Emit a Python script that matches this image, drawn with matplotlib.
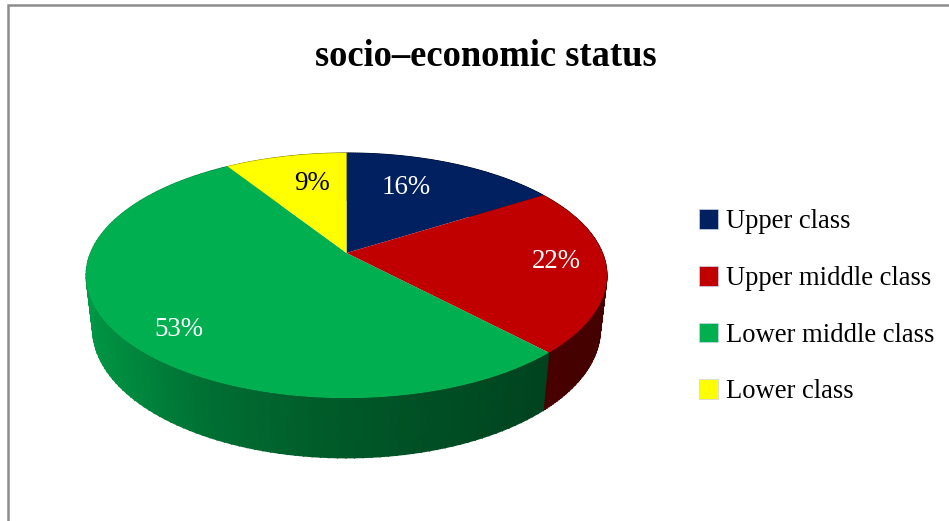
import matplotlib
matplotlib.use('Agg')
import matplotlib.pyplot as plt
import numpy as np
from matplotlib.colors import LinearSegmentedColormap
from matplotlib.patches import Patch

categories = ['Upper class', 'Upper middle class', 'Lower middle class', 'Lower class']
shares = [16, 22, 53, 9]
colors = ['#002060', '#C00000', '#00B050', '#FFFF00']
label_colors = ['white', 'white', 'white', 'black']

# pie geometry in pixels: apex of the slices and perspective terms
cx, cy = 346.5, 253.0
A, B = 256.0, 118.4
k, m = 0.1837, 0.025
D = 54.0

SERIF = 'Liberation Serif'


def project(theta, r=1.0, z=0.0):
    # theta runs clockwise from 12 o'clock, z is how far down the rim
    u = r * np.sin(theta)
    v = r * np.cos(theta)
    w = 1 + k * v + m * z
    return cx + A * u / w, cy - (B * v - D * z) / w


def side_shade(theta):
    return np.interp(np.sin(theta), [-1, -0.75, -0.45, 0, 0.8, 1],
                     [0.87, 0.78, 0.63, 0.5, 0.36, 0.36])


fig = plt.figure(figsize=(9.49, 5.21), dpi=100)
ax = fig.add_axes([0, 0, 1, 1])
ax.set_xlim(0, 949)
ax.set_ylim(521, 0)
ax.axis('off')

# chart frame, open at the bottom and right of the canvas
ax.plot([8.5, 8.5, 949], [521, 5.0, 5.0], color='#8C8C8C', lw=1.8, solid_joinstyle='miter')

edges = 2 * np.pi * np.cumsum([0] + shares) / sum(shares)

# rim first, the top faces go over it
for start, stop, color in zip(edges[:-1], edges[1:], colors):
    cmap = LinearSegmentedColormap.from_list('rim', ['black', color])
    t = np.linspace(start, stop, 120)
    top_x, top_y = project(t)
    low_x, low_y = project(t, z=1)
    shade = side_shade(t)
    ax.pcolormesh(np.vstack([top_x, low_x]), np.vstack([top_y, low_y]),
                  np.vstack([shade, shade]), cmap=cmap, vmin=0, vmax=1, shading='gouraud')
    # small dots along the lower edge soften the steps of the mesh
    ax.scatter(low_x, low_y, s=1.2, c=shade, cmap=cmap, vmin=0, vmax=1, lw=0)

for start, stop, color in zip(edges[:-1], edges[1:], colors):
    t = np.linspace(start, stop, 200)
    x, y = project(t)
    ax.fill(np.r_[cx, x], np.r_[cy, y], color=color, lw=0)

label_pos = [(406, 187), (556, 262), (179, 329), (312, 184)]
for share, (lx, ly), c in zip(shares, label_pos, label_colors):
    ax.text(lx, ly, '%d%%' % share, color=c, fontsize=19.4, family=SERIF,
            ha='center', va='center')

ax.text(486, 56, 'socio\u2013economic status', fontsize=26.3, fontweight='bold', family=SERIF,
        ha='center', va='center', color='black')

handles = [Patch(facecolor=c, edgecolor='#C8D4E8', lw=0.5) for c in colors]
ax.legend(handles, categories, loc='upper left', bbox_to_anchor=(685.5 / 949, 1 - 196 / 521),
          frameon=False, prop={'family': SERIF, 'size': 19.2}, handlelength=0.7, handleheight=0.76,
          handletextpad=0.3, labelspacing=1.18, borderpad=0, borderaxespad=0.5)

fig.savefig('out.png', dpi=100)
